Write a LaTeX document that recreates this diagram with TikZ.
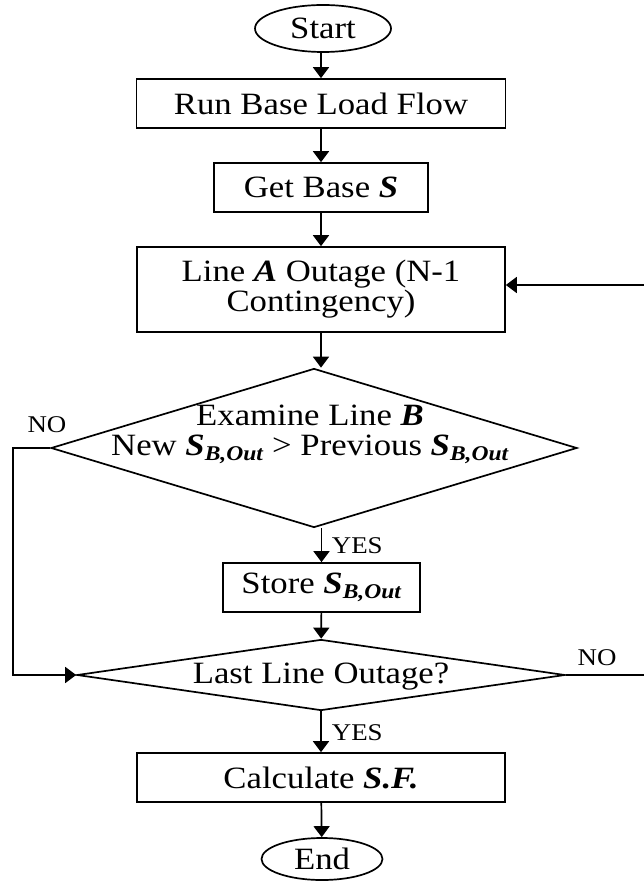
\documentclass[tikz,border=0pt]{standalone}
\usepackage{fontspec}
\setmainfont{Liberation Serif}[FakeStretch=1.12]
\usetikzlibrary{shapes.geometric,arrows.meta}
\newcommand\SBout{\textbf{\textit{S}}\raisebox{-0.35ex}{\fontsize{21}{21}\selectfont\textbf{\textit{B,Out}}}}
\begin{document}
\begin{tikzpicture}[x=1pt,y=-1pt,
  every node/.style={font=\fontsize{31}{30}\selectfont, line width=1.7pt},
  box/.style={draw, rectangle, inner sep=0pt, align=center},
  term/.style={draw, ellipse, inner sep=0pt},
  dec/.style={draw, diamond, inner sep=0pt},
  lbl/.style={font=\fontsize{24}{24}\selectfont, inner sep=0pt},
  arr/.style={line width=1.7pt, -{Triangle[length=11pt,width=16pt]}},
  ln/.style={line width=1.7pt}]
\useasboundingbox (0,0) rectangle (643,882);

\node[term, minimum width=136pt, minimum height=47pt] (start) at (323,28.5) {Start};
\node[box, minimum width=369pt, minimum height=49pt] (run) at (321,103.5) {Run Base Load Flow};
\node[box, minimum width=214pt, minimum height=49pt] (gets) at (321,187.5) {Get Base \textbf{\textit{S}}};
\node[box, minimum width=368pt, minimum height=85pt] (linea) at (321,289.5) {Line \textbf{\textit{A}} Outage (N-1\\Contingency)};
\node[dec, minimum width=526pt, minimum height=159pt] (d1) at (314,448) {};
\node[align=center, inner sep=0pt] (d1text) at (310,434) {Examine Line \textbf{\textit{B}}\\New \SBout{} > Previous \SBout};
\node[box, minimum width=197pt, minimum height=49pt] (store) at (321.5,587.5) {Store \SBout};
\node[dec, minimum width=488pt, minimum height=71pt] (d2) at (321,675) {};
\node[inner sep=0pt] (d2text) at (321,677) {Last Line Outage?};
\node[box, minimum width=368pt, minimum height=49pt] (calc) at (321,777.5) {Calculate \textbf{\textit{S.F.}}};
\node[term, minimum width=121pt, minimum height=42pt] (endn) at (322,859) {End};

\node[lbl] (no1) at (47,425) {NO};
\node[lbl, anchor=west] (yes1) at (331,546) {YES};
\node[lbl] (no2) at (597,658) {NO};
\node[lbl, anchor=west] (yes2) at (331,733) {YES};

\draw[arr] (start.south -| run.north) -- (run.north);
\draw[arr] (run) -- (gets);
\draw[arr] (gets) -- (linea);
\draw[arr] (linea.south) -- (linea.south |- d1.north);
\draw[arr] (store.north |- d1.south) -- (store.north);
\draw[arr] (store) -- (d2);
\draw[arr] (d2) -- (calc);
\draw[arr] (calc) -- (endn);
\draw[arr] (d1.west) -- ++(-37,0) |- (d2.west);
\draw[arr] (d2.east) -- ++(80,0) |- ([yshift=4.5pt]linea.east);
\end{tikzpicture}
\end{document}
